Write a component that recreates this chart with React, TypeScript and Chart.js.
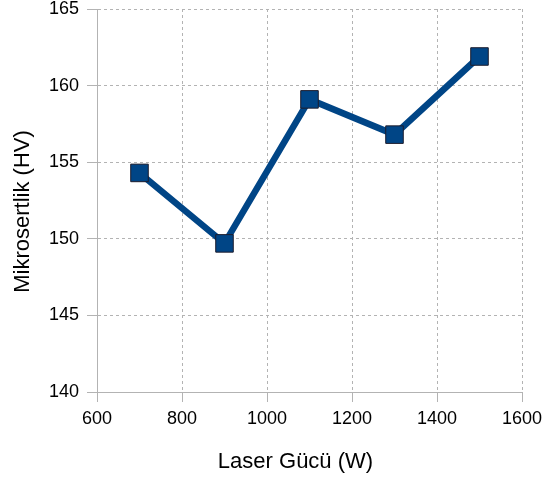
import React, { useEffect, useRef } from "react";
import { Chart, registerables } from "chart.js";

Chart.register(...registerables);

const laserPower = [700, 900, 1100, 1300, 1500];
const microhardness = [154.3, 149.7, 159.1, 156.8, 161.9];
const xTitle = "Laser Gücü (W)";
const yTitle = "Mikrosertlik (HV)";

const FONT = "'Liberation Sans', Arial, sans-serif";
const GRID = "#b3b3b3";

const axisTitlePlugin = {
  id: "axisTitlePlugin",
  afterDraw(chart: any) {
    const { ctx, chartArea } = chart;
    ctx.save();
    ctx.font = `22px ${FONT}`;
    ctx.fillStyle = "#000";
    ctx.textAlign = "center";
    ctx.textBaseline = "middle";
    const cx = (chartArea.left + chartArea.right) / 2 - 14;
    ctx.fillText(xTitle, cx, chartArea.bottom + 70);
    const cy = (chartArea.top + chartArea.bottom) / 2 + 11;
    ctx.translate(23, cy);
    ctx.rotate(-Math.PI / 2);
    ctx.fillText(yTitle, 0, 0);
    ctx.restore();
  },
};

export default function App() {
  const ref = useRef<HTMLCanvasElement>(null);
  useEffect(() => {
    document.body.style.margin = "0";
    const chart = new Chart(ref.current!, {
      type: "line",
      data: {
        datasets: [
          {
            data: laserPower.map((x, i) => ({ x, y: microhardness[i] })),
            borderColor: "#004586",
            borderWidth: 6.5,
            backgroundColor: "#004586",
            pointStyle: "rect",
            pointRadius: 12.4,
            pointBackgroundColor: "#004586",
            pointBorderColor: "#1c1c2c",
            pointBorderWidth: 1,
            tension: 0,
          },
        ],
      },
      options: {
        animation: false,
        responsive: false,
        layout: { autoPadding: false, padding: { top: 9, right: 23, left: 0, bottom: 0 } },
        plugins: { legend: { display: false }, tooltip: { enabled: false } },
        scales: {
          x: {
            type: "linear",
            min: 600,
            max: 1600,
            afterFit: (s: any) => {
              s.height = 88;
              s.paddingLeft = 0;
              s.paddingRight = 0;
            },
            ticks: {
              stepSize: 200,
              color: "#000",
              font: { family: FONT, size: 18 },
              padding: 6,
              callback: (v: any) => String(v),
            },
            grid: { color: GRID, tickLength: 10, lineWidth: 1 },
            border: { color: GRID, dash: [3, 3], width: 1 },
          },
          y: {
            min: 140,
            max: 165,
            afterFit: (s: any) => {
              s.width = 97;
              s.paddingTop = 0;
              s.paddingBottom = 0;
            },
            ticks: {
              stepSize: 5,
              color: "#000",
              font: { family: FONT, size: 18 },
              padding: 8,
              callback: (v: any) => String(v),
            },
            grid: { color: GRID, tickLength: 10, lineWidth: 1 },
            border: { color: GRID, dash: [3, 3], width: 1 },
          },
        },
      },
      plugins: [axisTitlePlugin],
    });
    return () => chart.destroy();
  }, []);
  return (
    <div style={{ position: "absolute", left: 0, top: 0, width: 545, height: 480 }}>
      <canvas ref={ref} width={545} height={480} style={{ width: 545, height: 480 }} />
    </div>
  );
}
